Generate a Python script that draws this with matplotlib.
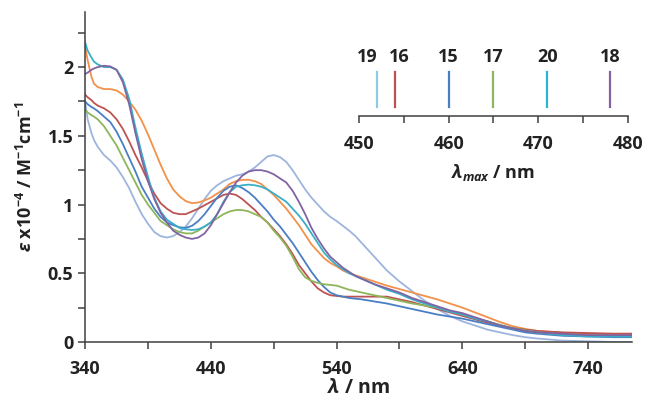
import matplotlib
matplotlib.use("Agg")
import matplotlib.pyplot as plt
from matplotlib.ticker import MultipleLocator

plt.rcParams['font.family'] = ['Open Sans', 'DejaVu Sans']
plt.rcParams['font.weight'] = 'bold'
plt.rcParams['axes.labelweight'] = 'bold'
plt.rcParams['mathtext.fontset'] = 'custom'
plt.rcParams['mathtext.rm'] = 'Open Sans:bold'
plt.rcParams['mathtext.bf'] = 'Open Sans:bold'
plt.rcParams['mathtext.it'] = 'Open Sans:italic:bold'

wl = [340, 342, 345, 347, 350, 355, 360, 365, 370, 375, 380, 385, 390, 395, 400,
      405, 410, 415, 420, 425, 430, 435, 440, 445, 450, 455, 460, 465, 470, 475,
      480, 485, 490, 495, 500, 505, 510, 515, 520, 525, 530, 535, 540, 545, 550,
      555, 560, 570, 580, 590, 600, 610, 620, 630, 640, 650, 660, 670, 680, 690,
      700, 720, 740, 760, 775]

# epsilon x10^-4 (M^-1 cm^-1)
eps_19 = [1.75, 1.62, 1.52, 1.47, 1.42, 1.36, 1.32, 1.27, 1.20, 1.12, 1.02, 0.93, 0.86, 0.80, 0.77,
          0.76, 0.77, 0.80, 0.84, 0.90, 0.97, 1.04, 1.10, 1.14, 1.17, 1.19, 1.21, 1.22, 1.24, 1.27,
          1.31, 1.35, 1.36, 1.345, 1.31, 1.25, 1.18, 1.11, 1.05, 1.00, 0.95, 0.91, 0.88, 0.845, 0.81,
          0.77, 0.72, 0.62, 0.52, 0.44, 0.37, 0.30, 0.24, 0.19, 0.15, 0.12, 0.09, 0.07, 0.05, 0.035,
          0.025, 0.01, 0.005, 0.0, 0.0]
eps_16 = [1.80, 1.78, 1.76, 1.74, 1.72, 1.70, 1.67, 1.62, 1.55, 1.46, 1.36, 1.27, 1.17, 1.08, 1.01,
          0.97, 0.94, 0.93, 0.93, 0.95, 0.97, 0.995, 1.02, 1.045, 1.07, 1.08, 1.07, 1.04, 1.00, 0.96,
          0.91, 0.87, 0.82, 0.77, 0.71, 0.64, 0.56, 0.50, 0.44, 0.39, 0.36, 0.34, 0.335, 0.33, 0.33,
          0.33, 0.33, 0.33, 0.33, 0.31, 0.29, 0.265, 0.24, 0.215, 0.19, 0.165, 0.14, 0.12, 0.10, 0.09,
          0.08, 0.07, 0.065, 0.06, 0.06]
eps_15 = [1.75, 1.73, 1.71, 1.70, 1.68, 1.64, 1.60, 1.53, 1.44, 1.34, 1.24, 1.13, 1.05, 0.97, 0.91,
          0.87, 0.85, 0.835, 0.83, 0.845, 0.88, 0.93, 0.99, 1.05, 1.10, 1.13, 1.14, 1.12, 1.09, 1.05,
          1.00, 0.95, 0.89, 0.84, 0.78, 0.72, 0.65, 0.58, 0.51, 0.45, 0.40, 0.36, 0.34, 0.33, 0.32,
          0.315, 0.31, 0.295, 0.28, 0.26, 0.24, 0.22, 0.20, 0.185, 0.17, 0.15, 0.13, 0.11, 0.09, 0.07,
          0.06, 0.045, 0.04, 0.035, 0.035]
eps_17 = [1.69, 1.67, 1.65, 1.64, 1.62, 1.57, 1.50, 1.43, 1.34, 1.25, 1.16, 1.07, 1.00, 0.94, 0.88,
          0.85, 0.82, 0.80, 0.79, 0.79, 0.81, 0.84, 0.87, 0.90, 0.93, 0.95, 0.96, 0.96, 0.95, 0.93,
          0.91, 0.87, 0.81, 0.76, 0.70, 0.62, 0.53, 0.47, 0.445, 0.43, 0.42, 0.415, 0.41, 0.395, 0.38,
          0.37, 0.36, 0.34, 0.32, 0.30, 0.28, 0.265, 0.25, 0.225, 0.20, 0.175, 0.15, 0.125, 0.10, 0.085,
          0.07, 0.055, 0.05, 0.045, 0.045]
eps_20 = [2.18, 2.12, 2.07, 2.04, 2.02, 2.00, 2.00, 1.98, 1.91, 1.77, 1.56, 1.37, 1.20, 1.05, 0.95,
          0.89, 0.86, 0.83, 0.82, 0.815, 0.82, 0.84, 0.87, 0.93, 1.02, 1.09, 1.13, 1.14, 1.145, 1.14,
          1.13, 1.11, 1.08, 1.05, 1.02, 0.97, 0.92, 0.86, 0.79, 0.72, 0.65, 0.60, 0.56, 0.53, 0.50,
          0.48, 0.46, 0.42, 0.38, 0.35, 0.31, 0.28, 0.25, 0.22, 0.20, 0.17, 0.15, 0.12, 0.10, 0.08,
          0.07, 0.05, 0.04, 0.04, 0.04]
eps_18 = [1.95, 1.96, 1.98, 1.99, 2.00, 2.01, 2.005, 1.98, 1.89, 1.73, 1.52, 1.33, 1.17, 1.04, 0.94,
          0.87, 0.81, 0.78, 0.76, 0.75, 0.76, 0.79, 0.85, 0.93, 1.01, 1.09, 1.16, 1.21, 1.24, 1.25,
          1.25, 1.24, 1.22, 1.19, 1.16, 1.10, 1.02, 0.93, 0.83, 0.75, 0.68, 0.62, 0.58, 0.54, 0.51,
          0.48, 0.46, 0.42, 0.39, 0.36, 0.32, 0.29, 0.26, 0.23, 0.21, 0.18, 0.15, 0.12, 0.10, 0.08,
          0.07, 0.06, 0.05, 0.05, 0.05]
eps_ref = [2.15, 2.05, 1.93, 1.88, 1.855, 1.84, 1.84, 1.83, 1.80, 1.75, 1.69, 1.61, 1.51, 1.40, 1.29,
           1.19, 1.11, 1.06, 1.025, 1.01, 1.015, 1.03, 1.05, 1.08, 1.11, 1.15, 1.17, 1.18, 1.18, 1.17,
           1.15, 1.11, 1.07, 1.02, 0.97, 0.91, 0.85, 0.78, 0.71, 0.66, 0.61, 0.575, 0.55, 0.52, 0.50,
           0.485, 0.47, 0.44, 0.41, 0.385, 0.36, 0.335, 0.31, 0.28, 0.25, 0.215, 0.18, 0.145, 0.115, 0.095,
           0.08, 0.065, 0.06, 0.06, 0.06]

# lambda max of each compound (inset scale)
labels = ['19', '16', '15', '17', '20', '18']
lam_max = [452, 454, 460, 465, 471, 478]
label_shift = [-7, 3, 0, 0, 0, 0]
marker_colors = ['#8ccbe4', '#c0504d', '#4a7ec4', '#8db65a', '#2fb3d3', '#8064a2']

curves = [
    (eps_19, '#9db5de'),
    (eps_ref, '#f29149'),
    (eps_16, '#bd5351'),
    (eps_15, '#4a7ec4'),
    (eps_17, '#8db65a'),
    (eps_20, '#3aaec8'),
    (eps_18, '#8064a2'),
]

fig = plt.figure(figsize=(6.45, 4.04), dpi=100)
ax = fig.add_axes([0.132, 0.1535, 0.848, 0.8165])

for y, c in curves:
    ax.plot(wl, y, color=c, lw=1.3)

ax.set_xlim(340, 775)
ax.set_ylim(0, 2.4)
ax.set_xticks([340, 440, 540, 640, 740])
ax.set_xticks([390, 490, 590, 690], minor=True)
ax.set_yticks([0, 0.5, 1, 1.5, 2])
ax.set_yticklabels(['0', '0.5', '1', '1.5', '2'])
ax.yaxis.set_minor_locator(MultipleLocator(0.25))
for s in ['top', 'right']:
    ax.spines[s].set_visible(False)
for s in ['left', 'bottom']:
    ax.spines[s].set_color('#404040')
    ax.spines[s].set_linewidth(1.1)
ax.tick_params(which='both', direction='out', length=5, width=1.1, color='#404040',
               labelsize=13, labelcolor='#222222')
ax.tick_params(axis='x', pad=8)
ax.set_xlabel(r'$\lambda$ / nm', fontsize=14, color='#222222', labelpad=0)
ax.set_ylabel(r'$\varepsilon$ x10$^{\mathit{-4}}$ / M$^{-1}$cm$^{-1}$', fontsize=13,
              color='#222222', labelpad=8)

# inset scale of lambda max
ins = fig.add_axes([0.5566, 0.7129, 0.417, 0.188])
ins.set_xlim(450, 480)
ins.set_ylim(0, 1)
ins.patch.set_alpha(0)
for s in ['top', 'right', 'left']:
    ins.spines[s].set_visible(False)
ins.spines['bottom'].set_color('#404040')
ins.spines['bottom'].set_linewidth(1.1)
ins.set_yticks([])
ins.xaxis.set_major_locator(MultipleLocator(10))
ins.xaxis.set_minor_locator(MultipleLocator(5))
ins.tick_params(which='both', direction='out', length=5, width=1.1, color='#404040',
                labelsize=13, labelcolor='#222222', pad=9)
ins.set_xlabel(r'$\lambda_{max}$ / nm', fontsize=13, color='#222222', labelpad=6)
for lab, lm, dx, c in zip(labels, lam_max, label_shift, marker_colors):
    ins.plot([lm, lm], [0.12, 0.58], color=c, lw=1.6)
    ins.annotate(lab, (lm, 0.78), xytext=(dx, 0), textcoords='offset points',
                 ha='center', va='center', fontsize=13, color='#222222')

fig.savefig('out.png', dpi=100, facecolor='white')
